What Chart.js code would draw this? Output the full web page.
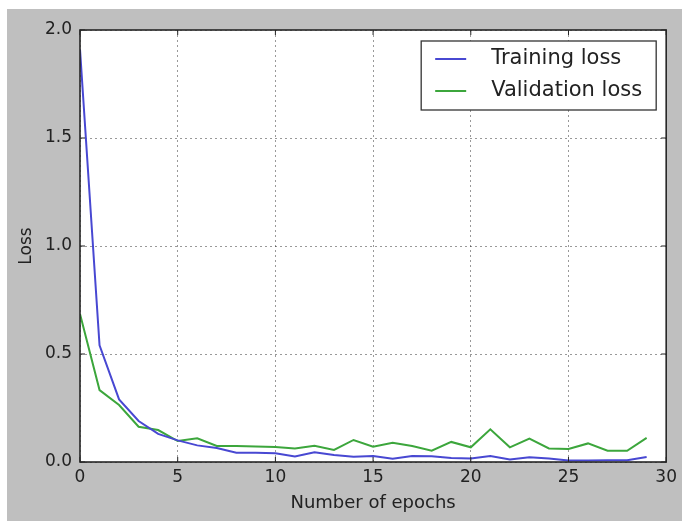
<!DOCTYPE html>
<html>
<head>
<meta charset="utf-8">
<script src="https://cdn.jsdelivr.net/npm/chart.js@4/dist/chart.umd.min.js"></script>
<style>
  body { margin: 0; background: #ffffff; }
  #wrap { position: absolute; left: 7px; top: 9px; width: 675px; height: 512px; background: #bfbfbf; }
</style>
</head>
<body>
<div id="wrap"><canvas id="lossChart" width="675" height="512"></canvas></div>
<script>
// values
const epochs = [0,1,2,3,4,5,6,7,8,9,10,11,12,13,14,15,16,17,18,19,20,21,22,23,24,25,26,27,28,29]
const trainingLoss = [1.91,0.54,0.29,0.19,0.13,0.10,0.077,0.065,0.043,0.043,0.04,0.025,0.045,0.032,0.024,0.028,0.015,0.028,0.027,0.019,0.016,0.028,0.012,0.022,0.016,0.007,0.007,0.008,0.008,0.023]
const validationLoss = [0.685,0.333,0.264,0.163,0.148,0.097,0.11,0.074,0.074,0.072,0.069,0.063,0.075,0.056,0.102,0.071,0.089,0.074,0.052,0.093,0.068,0.151,0.068,0.108,0.063,0.06,0.086,0.052,0.052,0.112]
const seriesNames = ['Training loss', 'Validation loss']
const seriesColors = ['#4848d2', '#3ca63c']
const xTicks = [0, 5, 10, 15, 20, 25, 30]
const yTicks = [0, 0.5, 1.0, 1.5, 2.0]

const fontFam = "'DejaVu Sans', sans-serif"

function toPoints(ys) {
    pts = []
    for (let i = 0; i < epochs.length; i++) {
        pts.push({x: epochs[i], y: ys[i]})
    }
    return pts
}

// white plot area, frame, inward ticks and boxed legend like the old matplotlib style
const framePlugin = {
    id: 'frame',
    beforeDraw(chart) {
        const a = chart.chartArea
        chart.ctx.save()
        chart.ctx.fillStyle = '#ffffff'
        chart.ctx.fillRect(a.left, a.top, a.right - a.left, a.bottom - a.top)
        chart.ctx.restore()
    },
    afterDatasetsDraw(chart) {
        const ctx = chart.ctx
        const a = chart.chartArea
        const xs = chart.scales.x
        const ys = chart.scales.y
        ctx.save()
        ctx.strokeStyle = '#222'
        ctx.lineWidth = 1
        xTicks.forEach(v => {
            const px = xs.getPixelForValue(v)
            ctx.beginPath()
            ctx.moveTo(px, a.bottom); ctx.lineTo(px, a.bottom - 5)
            ctx.moveTo(px, a.top); ctx.lineTo(px, a.top + 5)
            ctx.stroke()
        })
        yTicks.forEach(v => {
            const py = ys.getPixelForValue(v)
            ctx.beginPath()
            ctx.moveTo(a.left, py); ctx.lineTo(a.left + 5, py)
            ctx.moveTo(a.right, py); ctx.lineTo(a.right - 5, py)
            ctx.stroke()
        })
        ctx.lineWidth = 1.6
        ctx.strokeStyle = '#262626'
        ctx.strokeRect(a.left, a.top, a.right - a.left, a.bottom - a.top)

        // legend box
        const bx = a.right - 245, by = a.top + 11, bw = 235, bh = 69
        ctx.fillStyle = '#ffffff'
        ctx.fillRect(bx, by, bw, bh)
        ctx.lineWidth = 1.3
        ctx.strokeStyle = '#333'
        ctx.strokeRect(bx, by, bw, bh)
        ctx.font = '21px ' + fontFam
        ctx.textBaseline = 'middle'
        chart.data.datasets.forEach((ds, i) => {
            const cy = by + 18 + i * 32
            ctx.strokeStyle = ds.borderColor
            ctx.lineWidth = 2
            ctx.beginPath()
            ctx.moveTo(bx + 14, cy); ctx.lineTo(bx + 45, cy)
            ctx.stroke()
            ctx.fillStyle = '#222'
            ctx.fillText(ds.label, bx + 70, cy)
        })
        ctx.restore()
    }
}

const data = {
    datasets: [
        {
            label: seriesNames[0],
            data: toPoints(trainingLoss),
            borderColor: seriesColors[0],
            backgroundColor: seriesColors[0],
            borderWidth: 2,
            pointRadius: 0,
            tension: 0
        },
        {
            label: seriesNames[1],
            data: toPoints(validationLoss),
            borderColor: seriesColors[1],
            backgroundColor: seriesColors[1],
            borderWidth: 2,
            pointRadius: 0,
            tension: 0
        }
    ]
}

const config = {
    type: 'line',
    data: data,
    plugins: [framePlugin],
    options: {
        responsive: false,
        animation: false,
        layout: { padding: { left: 0, top: 21, right: 14, bottom: 0 } },
        plugins: {
            legend: { display: false },
            tooltip: { enabled: false }
        },
        scales: {
            x: {
                type: 'linear',
                min: 0,
                max: 30,
                afterBuildTicks: s => { s.ticks = xTicks.map(v => ({value: v})) },
                afterFit: s => { s.height = 59 },
                border: { display: false, dash: [2, 3] },
                grid: { color: 'rgba(0,0,0,0.4)', lineWidth: 1, drawTicks: false },
                ticks: { color: '#222', padding: 5, font: { family: fontFam, size: 17 }, maxRotation: 0 },
                title: { display: true, text: 'Number of epochs', color: '#222', font: { family: fontFam, size: 18 }, padding: { top: 0, bottom: 7 } }
            },
            y: {
                min: 0,
                max: 2,
                afterBuildTicks: s => { s.ticks = yTicks.map(v => ({value: v})) },
                afterFit: s => { s.width = 73 },
                border: { display: false, dash: [2, 3] },
                grid: { color: 'rgba(0,0,0,0.4)', lineWidth: 1, drawTicks: false },
                ticks: { color: '#222', padding: 8, font: { family: fontFam, size: 17 }, callback: v => v.toFixed(1) },
                title: { display: true, text: 'Loss', color: '#222', font: { family: fontFam, size: 17 }, padding: { top: 9, bottom: 0 } }
            }
        }
    }
}

const myChart = new Chart(document.getElementById('lossChart'), config)
</script>
</body>
</html>
